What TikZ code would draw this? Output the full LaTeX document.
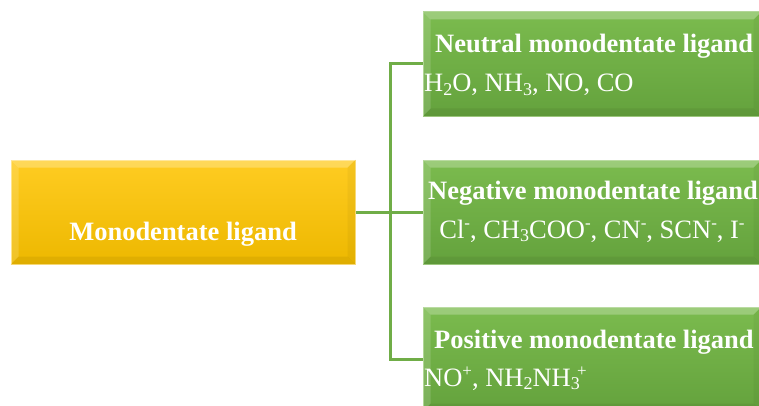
\documentclass[tikz,border=0pt]{standalone}
\usepackage{fontspec}
\setmainfont{Liberation Serif}
\usetikzlibrary{calc}
\definecolor{ylwTop}{HTML}{FFCC22}
\definecolor{ylwBot}{HTML}{EDB800}
\definecolor{grnTop}{HTML}{7BBB4E}
\definecolor{grnBot}{HTML}{64A23D}
\definecolor{grnLine}{HTML}{70AD47}
\newcommand\chemsub[1]{\raisebox{-0.3ex}{\fontsize{18}{18}\selectfont #1}}
\newcommand\chemsup[1]{\raisebox{0.75ex}{\fontsize{17}{17}\selectfont #1}}
\tikzset{
  ybox/.style={rectangle,minimum width=344pt,minimum height=104pt,inner sep=0pt,
    top color=ylwTop,bottom color=ylwBot,draw=ylwTop!60!white,line width=1pt},
  gbox/.style={rectangle,minimum width=338pt,minimum height=104pt,inner sep=0pt,
    top color=grnTop,bottom color=grnBot,draw=grnTop!70!white,line width=1pt},
  ttl/.style={text=white,font=\fontsize{26.5}{28}\selectfont\bfseries,inner sep=0pt},
  sub/.style={text=white,font=\fontsize{26.5}{28}\selectfont,inner sep=0pt},
  conn/.style={draw=grnLine,line width=3pt},
}
\begin{document}
\begin{tikzpicture}[x=1pt,y=1pt]
\useasboundingbox (0,0) rectangle (759,405);
\clip (0,0) rectangle (759,405);
\node[ybox] (mono) at (183,193) {};
\node[gbox] (neu) at (592,341) {};
\node[gbox] (neg) at (592,193) {};
\node[gbox] (pos) at (592,46) {};
% bevel highlights
\foreach \b in {mono,neu,neg,pos}{
  \fill[white,opacity=0.25] (\b.north west) -- (\b.north east) -- ($(\b.north east)+(-8,-8)$) -- ($(\b.north west)+(8,-8)$) -- cycle;
  \fill[white,opacity=0.15] (\b.north west) -- ($(\b.north west)+(8,-8)$) -- ($(\b.south west)+(8,8)$) -- (\b.south west) -- cycle;
  \fill[black,opacity=0.06] (\b.south west) -- ($(\b.south west)+(8,8)$) -- ($(\b.south east)+(-8,8)$) -- (\b.south east) -- cycle;
  \fill[black,opacity=0.04] (\b.north east) -- ($(\b.north east)+(-8,-8)$) -- ($(\b.south east)+(-8,8)$) -- (\b.south east) -- cycle;
}
\node[ttl,anchor=base] (monoT) at (183,165) {Monodentate ligand};
\node[ttl,anchor=base west] (neuT) at (435,352) {Neutral monodentate ligand};
\node[sub,anchor=base west] (neuS) at (424,313) {H\chemsub{2}O, NH\chemsub{3}, NO, CO};
\node[ttl,anchor=base] (negT) at (593,206) {Negative monodentate ligand};
\node[sub,anchor=base] (negS) at (592,167) {Cl\chemsup{-}, CH\chemsub{3}COO\chemsup{-}, CN\chemsup{-}, SCN\chemsup{-}, I\chemsup{-}};
\node[ttl,anchor=base west] (posT) at (434,57) {Positive monodentate ligand};
\node[sub,anchor=base west] (posS) at (424,19) {NO\chemsup{+}, NH\chemsub{2}NH\chemsub{3}\kern-0.1em\chemsup{+}};
\coordinate (j) at (390,193);
\draw[conn] (mono.east) -- (j);
\draw[conn] (j) |- (neu.west);
\draw[conn] (j) |- (pos.west);
\draw[conn] (j) -- (neg.west);
\end{tikzpicture}
\end{document}
